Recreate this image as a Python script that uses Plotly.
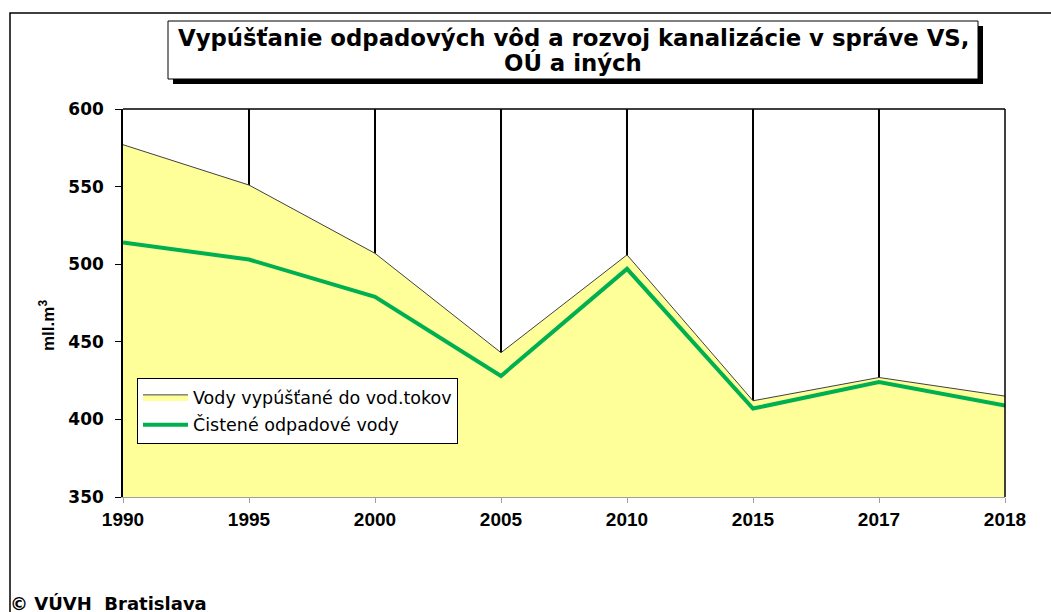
import plotly.graph_objects as go

years = ["1990", "1995", "2000", "2005", "2010", "2015", "2017", "2018"]
discharged = [577, 551, 507, 443, 506, 412, 427, 415]
treated = [514, 503, 479, 428, 497, 407, 424, 409]
yticks = [350, 400, 450, 500, 550, 600]

title_line1 = "Vypúšťanie odpadových vôd a rozvoj kanalizácie v správe VS,"
title_line2 = "OÚ a iných"
name_area = "Vody vypúšťané do vod.tokov"
name_line = "Čistené odpadové vody"
ytitle = "mll.m<sup>3</sup>"
footer = "© VÚVH  Bratislava"

L, R, T, B = 123, 1005, 109, 497
W, H = 1051, 612
def px(x):
    return (x - L) / (R - L)
def py(y):
    return (B - y) / (B - T)

fig = go.Figure()
fig.add_trace(go.Scatter(
    x=years, y=discharged, name=name_area, mode="lines",
    fill="tozeroy", fillcolor="#FFFF99",
    line=dict(color="#404040", width=1),
    legendgroup="a",
))
fig.add_trace(go.Scatter(
    x=years, y=treated, name=name_line, mode="lines",
    line=dict(color="#00B050", width=4),
    legendgroup="b",
))

shapes = [
    dict(type="rect", xref="paper", yref="paper",
         x0=px(10), x1=px(1070), y0=py(630), y1=py(13),
         line=dict(color="black", width=1.5), fillcolor="rgba(0,0,0,0)", layer="below"),
    dict(type="rect", xref="paper", yref="paper",
         x0=px(173), x1=px(983), y0=py(84), y1=py(26),
         line=dict(color="black", width=0), fillcolor="black"),
    dict(type="rect", xref="paper", yref="paper",
         x0=px(168), x1=px(978), y0=py(79), y1=py(21),
         line=dict(color="black", width=1), fillcolor="white"),
    dict(type="line", xref="x domain", yref="y domain", x0=0, x1=1, y0=1, y1=1,
         line=dict(color="black", width=1.5)),
    dict(type="line", xref="x domain", yref="y domain", x0=1, x1=1, y0=0, y1=1,
         line=dict(color="black", width=1.5)),
]

tfont = dict(family="DejaVu Sans", size=22.8, color="black")
annotations = [
    dict(text="<b>" + title_line1 + "</b>", xref="paper", yref="paper", x=px(573), y=py(38),
         xanchor="center", yanchor="middle", showarrow=False, font=tfont),
    dict(text="<b>" + title_line2 + "</b>", xref="paper", yref="paper", x=px(573), y=py(63),
         xanchor="center", yanchor="middle", showarrow=False, font=tfont),
    dict(text="<b>" + ytitle + "</b>", xref="paper", yref="paper", x=px(47), y=py(326),
         xanchor="center", yanchor="middle", showarrow=False, textangle=-90,
         font=dict(family="Liberation Sans", size=17, color="black")),
    dict(text="<b>" + footer + "</b>", xref="paper", yref="paper", x=px(8), y=py(603),
         xanchor="left", yanchor="middle", showarrow=False,
         font=dict(family="DejaVu Sans", size=18, color="black")),
]

fig.update_layout(
    width=W, height=H,
    margin=dict(l=L, r=W - R, t=T, b=H - B),
    paper_bgcolor="white", plot_bgcolor="white",
    shapes=shapes, annotations=annotations,
    showlegend=True,
    legend=dict(
        x=px(137), y=py(378), xanchor="left", yanchor="top",
        bgcolor="white", bordercolor="black", borderwidth=1,
        font=dict(family="DejaVu Sans", size=17.5, color="black"),
        itemwidth=45, tracegroupgap=2,
    ),
    xaxis=dict(
        type="category", range=[0, 7],
        showgrid=True, gridcolor="black", gridwidth=1.5,
        showline=True, linecolor="#A0A0A0", linewidth=1,
        ticks="outside", ticklen=5, tickcolor="#A0A0A0",
        tickfont=dict(family="Liberation Sans", size=19, color="black", weight="bold"),
        zeroline=False,
    ),
    yaxis=dict(
        range=[350, 600], tickvals=yticks,
        showgrid=False, zeroline=False,
        showline=True, linecolor="black", linewidth=1.5,
        ticks="outside", ticklen=6, tickcolor="black",
        ticklabelstandoff=8,
        tickfont=dict(family="DejaVu Sans", size=17, color="black", weight="bold"),
    ),
)

fig.write_html("out.html", config={"displayModeBar": False},
               post_script="document.body.style.margin='0';document.body.style.overflow='hidden';")
